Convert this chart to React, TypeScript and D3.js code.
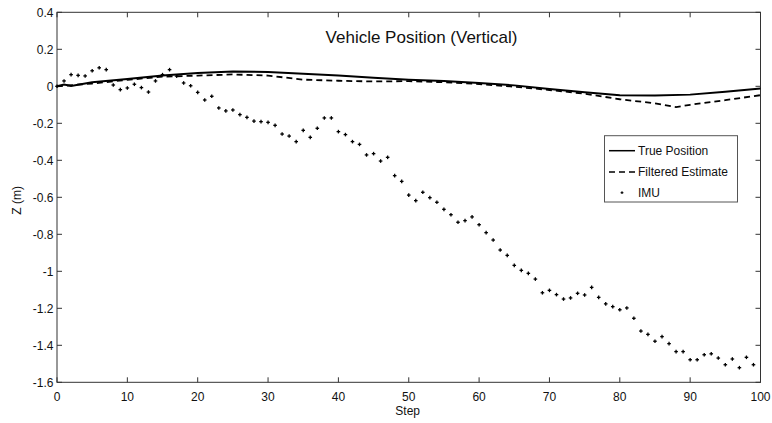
import React from "react";
import * as d3 from "d3";

const imuSteps = d3.range(0, 100);
const imuValues = [
  0, 0.029, 0.063, 0.059, 0.056, 0.084, 0.1, 0.09, 0.007, -0.018,
  -0.009, 0.011, -0.007, -0.031, 0.029, 0.063, 0.09, 0.055, 0.018, 0.003,
  -0.033, -0.074, -0.054, -0.117, -0.133, -0.128, -0.153, -0.168, -0.188, -0.191,
  -0.195, -0.211, -0.258, -0.269, -0.299, -0.238, -0.276, -0.227, -0.171, -0.171,
  -0.245, -0.261, -0.299, -0.314, -0.371, -0.364, -0.404, -0.384, -0.483, -0.514,
  -0.588, -0.618, -0.573, -0.602, -0.627, -0.665, -0.694, -0.735, -0.726, -0.706,
  -0.748, -0.791, -0.831, -0.885, -0.914, -0.968, -0.995, -1.011, -1.042, -1.116,
  -1.103, -1.126, -1.15, -1.144, -1.119, -1.128, -1.087, -1.141, -1.176, -1.191,
  -1.208, -1.198, -1.254, -1.323, -1.341, -1.378, -1.353, -1.391, -1.434, -1.434,
  -1.478, -1.478, -1.451, -1.446, -1.469, -1.505, -1.474, -1.521, -1.465, -1.505,
];

const trueSteps = [0, 1, 2, 5, 10, 15, 20, 25, 30, 35, 40, 45, 50, 55, 60, 65, 70, 75, 80, 85, 90, 95, 100];
const trueValues = [0, 0.01, 0.002, 0.022, 0.04, 0.058, 0.072, 0.08, 0.077, 0.068, 0.058, 0.046, 0.036, 0.028, 0.018, 0.005, -0.015, -0.032, -0.048, -0.05, -0.045, -0.03, -0.012];

const filtSteps = [0, 5, 10, 15, 20, 25, 30, 35, 40, 45, 50, 55, 60, 65, 70, 75, 80, 85, 88, 90, 95, 100];
const filtValues = [0, 0.015, 0.035, 0.052, 0.058, 0.064, 0.058, 0.036, 0.03, 0.026, 0.028, 0.022, 0.012, -0.002, -0.02, -0.04, -0.07, -0.092, -0.112, -0.1, -0.075, -0.048];

const xTicks = d3.range(0, 101, 10);
const yTicks = [0.4, 0.2, 0, -0.2, -0.4, -0.6, -0.8, -1, -1.2, -1.4, -1.6];

const legendLabels = ["True Position", "Filtered Estimate", "IMU"];
const titleText = "Vehicle Position (Vertical)";

const W = 772;
const H = 423;
const L = 57;
const R = 760.5;
const T = 12.3;
const B = 382.3;
const FONT = "'Liberation Sans', Arial, Helvetica, sans-serif";

export default function App() {
  const x = d3.scaleLinear().domain([0, 100]).range([L, R]);
  const y = d3.scaleLinear().domain([-1.6, 0.4]).range([B, T]);
  const line = d3
    .line<[number, number]>()
    .x((d) => x(d[0]))
    .y((d) => y(d[1]));
  const truePts: [number, number][] = trueSteps.map((s, i) => [s, trueValues[i]]);
  const filtPts: [number, number][] = filtSteps.map((s, i) => [s, filtValues[i]]);
  const tick = 5;
  const axisColor = "#333";
  const ms = 1.8;
  const lgX = 604.5;
  const lgY = 135.7;
  const lgW = 133;
  const lgH = 66.3;
  const rowsY = [150.7, 172, 192.7];

  return (
    <svg
      width={W}
      height={H}
      style={{ position: "absolute", left: 0, top: 0, background: "#fff" }}
      fontFamily={FONT}
    >
      <rect x={0} y={0} width={W} height={H} fill="#fff" />
      {xTicks.map((t) => (
        <g key={"xt" + t}>
          <line x1={x(t)} x2={x(t)} y1={B} y2={B - tick} stroke={axisColor} strokeWidth={1} />
          <line x1={x(t)} x2={x(t)} y1={T} y2={T + tick} stroke={axisColor} strokeWidth={1} />
          <text x={x(t)} y={400.5} textAnchor="middle" fontSize={12} fill="#111">
            {String(t)}
          </text>
        </g>
      ))}
      {yTicks.map((t) => (
        <g key={"yt" + t}>
          <line x1={L} x2={L + tick} y1={y(t)} y2={y(t)} stroke={axisColor} strokeWidth={1} />
          <line x1={R} x2={R - tick} y1={y(t)} y2={y(t)} stroke={axisColor} strokeWidth={1} />
          <text x={53.5} y={y(t)} dy="0.36em" textAnchor="end" fontSize={12} fill="#111">
            {String(t)}
          </text>
        </g>
      ))}
      <rect x={L} y={T} width={R - L} height={B - T} fill="none" stroke={axisColor} strokeWidth={1} />

      <path d={line(truePts) || ""} fill="none" stroke="#000" strokeWidth={2} />
      <path d={line(filtPts) || ""} fill="none" stroke="#000" strokeWidth={1.8} strokeDasharray="6,4" />
      {imuSteps.map((s, i) => (
        <g key={"m" + s} stroke="#000" strokeWidth={1.3}>
          <line x1={x(s) - ms} x2={x(s) + ms} y1={y(imuValues[i])} y2={y(imuValues[i])} />
          <line x1={x(s)} x2={x(s)} y1={y(imuValues[i]) - ms} y2={y(imuValues[i]) + ms} />
        </g>
      ))}

      <text x={421.5} y={43.3} textAnchor="middle" fontSize={17} fill="#111">
        {titleText}
      </text>

      <text x={407.7} y={415} textAnchor="middle" fontSize={12} fill="#111">
        Step
      </text>
      <text
        transform={`translate(20.5, ${(T + B) / 2 + 3}) rotate(-90)`}
        textAnchor="middle"
        fontSize={12}
        fill="#111"
      >
        Z (m)
      </text>

      <rect x={lgX} y={lgY} width={lgW} height={lgH} fill="#fff" stroke="#555" strokeWidth={1} />
      <line x1={609} x2={635} y1={rowsY[0]} y2={rowsY[0]} stroke="#000" strokeWidth={1.5} />
      <line x1={609} x2={635} y1={rowsY[1]} y2={rowsY[1]} stroke="#000" strokeWidth={1.5} strokeDasharray="6,4" />
      <g stroke="#000" strokeWidth={1.1}>
        <line x1={622 - 1.4} x2={622 + 1.4} y1={rowsY[2]} y2={rowsY[2]} />
        <line x1={622} x2={622} y1={rowsY[2] - 1.4} y2={rowsY[2] + 1.4} />
      </g>
      {legendLabels.map((lab, i) => (
        <text key={lab} x={638} y={rowsY[i]} dy="0.36em" fontSize={12} fill="#111">
          {lab}
        </text>
      ))}
    </svg>
  );
}
